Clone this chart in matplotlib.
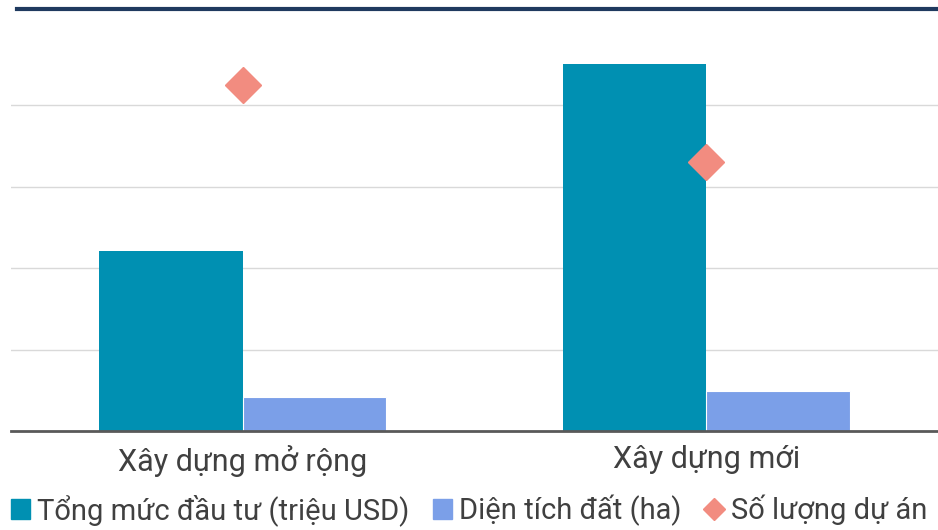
import matplotlib
matplotlib.use("Agg")
import matplotlib.pyplot as plt
from matplotlib.lines import Line2D
from matplotlib.patches import Patch
import numpy as np

plt.rcParams["font.family"] = ["Roboto", "DejaVu Sans"]

# data
categories = ["Xây dựng mở rộng", "Xây dựng mới"]
investment = [1105, 2257]      # Tổng mức đầu tư (triệu USD)
land_area = [208, 245]         # Diện tích đất (ha)
project_count = [85, 66]       # Số lượng dự án

TEAL = "#0090B2"
LIGHT_BLUE = "#7B9FE8"
SALMON = "#F28C80"
TEXT = "#404040"

fig = plt.figure(figsize=(9.38, 5.30), dpi=100)
ax = fig.add_axes([11 / 938, 99 / 530, 927 / 938, 407 / 530])

x = np.arange(len(categories))
w = 0.31
ax.bar(x - w / 2, investment, width=w, color=TEAL, zorder=2)
ax.bar(x + w / 2, land_area, width=w, color=LIGHT_BLUE, edgecolor="white",
       linewidth=0.8, zorder=2)

ax.set_xlim(-0.5, 1.5)
ax.set_ylim(0, 2500)
ax.set_yticks([500, 1000, 1500, 2000])
ax.yaxis.grid(True, color="#d9d9d9", linewidth=1, zorder=0)
ax.tick_params(axis="y", length=0, labelleft=False)
ax.tick_params(axis="x", length=0, labelsize=22, labelcolor=TEXT, pad=10)
ax.set_xticks(x, categories)
for s in ["top", "right", "left"]:
    ax.spines[s].set_visible(False)
ax.spines["bottom"].set_color("#595959")
ax.spines["bottom"].set_linewidth(2)
ax.set_axisbelow(True)

ax2 = ax.twinx()
ax2.set_ylim(0, 100)
ax2.plot(x, project_count, linestyle="none", marker="D", markersize=18.5,
         color=SALMON, zorder=3)
ax2.axis("off")

# navy rule at top
fig.add_artist(Line2D([17 / 938, 1], [1 - 8.5 / 530] * 2, color="#1F3A5F",
                      linewidth=3, transform=fig.transFigure))

handles = [
    Patch(color=TEAL, label="Tổng mức đầu tư (triệu USD)"),
    Patch(color=LIGHT_BLUE, label="Diện tích đất (ha)"),
    Line2D([], [], linestyle="none", marker="D", markersize=11, color=SALMON,
           label="Số lượng dự án"),
]
fig.legend(handles=handles, loc="lower center", bbox_to_anchor=(0.5, -0.042),
           ncol=3, frameon=False, fontsize=21, labelcolor=TEXT,
           handlelength=0.65, handleheight=0.65, handletextpad=0.25,
           columnspacing=0.8)

fig.savefig("out.png", dpi=100)
